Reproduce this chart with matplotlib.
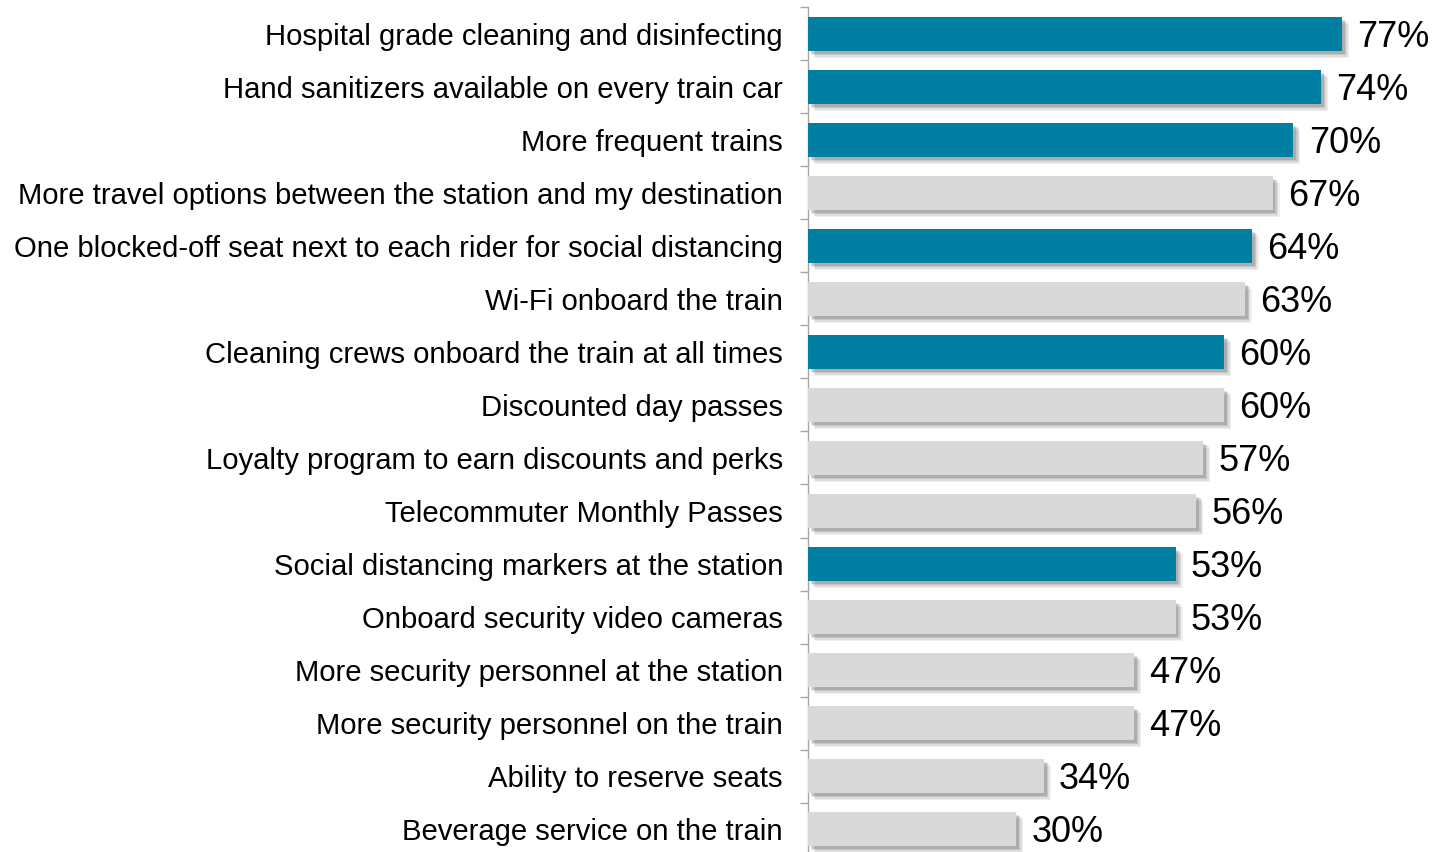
import matplotlib
matplotlib.use("Agg")
import matplotlib.pyplot as plt
import matplotlib.patheffects as pe

categories = [
    "Hospital grade cleaning and disinfecting",
    "Hand sanitizers available on every train car",
    "More frequent trains",
    "More travel options between the station and my destination",
    "One blocked-off seat next to each rider for social distancing",
    "Wi-Fi onboard the train",
    "Cleaning crews onboard the train at all times",
    "Discounted day passes",
    "Loyalty program to earn discounts and perks",
    "Telecommuter Monthly Passes",
    "Social distancing markers at the station",
    "Onboard security video cameras",
    "More security personnel at the station",
    "More security personnel on the train",
    "Ability to reserve seats",
    "Beverage service on the train",
]
values = [77, 74, 70, 67, 64, 63, 60, 60, 57, 56, 53, 53, 47, 47, 34, 30]
highlight = [True, True, True, False, True, False, True, False, False, False,
             True, False, False, False, False, False]
value_labels = ["77%", "74%", "70%", "67%", "64%", "63%", "60%", "60%", "57%",
                "56%", "53%", "53%", "47%", "47%", "34%", "30%"]

BLUE = "#007FA3"
GREY = "#D9D9D9"

plt.rcParams['font.family'] = ['Liberation Sans', 'DejaVu Sans']

W, H, DPI = 1439, 852, 100
fig = plt.figure(figsize=(W / DPI, H / DPI), dpi=DPI)
left = 808 / W
top_px = 7.5
bot_px = -3.5
ax = fig.add_axes([left, bot_px / H, 1 - left, (H - top_px - bot_px) / H])

pos = list(range(len(categories)))
colors = [BLUE if h else GREY for h in highlight]
shadow = [pe.SimplePatchShadow(offset=(5, -5), shadow_rgbFace="#000000", alpha=0.06),
          pe.SimplePatchShadow(offset=(4, -4), shadow_rgbFace="#000000", alpha=0.08),
          pe.SimplePatchShadow(offset=(3, -3), shadow_rgbFace="#000000", alpha=0.10),
          pe.SimplePatchShadow(offset=(2, -2), shadow_rgbFace="#000000", alpha=0.12),
          pe.Normal()]
bars = ax.barh(pos, values, height=0.65, color=colors, zorder=3)
for b in bars:
    b.set_path_effects(shadow)

for p, v, lab in zip(pos, values, value_labels):
    ax.annotate(lab, xy=(v, p), xytext=(11, -2.2), textcoords="offset points",
                va="center", ha="left", fontsize=26, color="#000000")

scale = (1342 - 808) / 77.0
ax.set_xlim(0, (W - 808) / scale)
ax.set_ylim(len(categories) - 0.5, -0.5)

ax.set_yticks(pos)
ax.set_yticklabels(categories, fontsize=21.1)
ax.tick_params(axis="y", which="major", length=0, pad=18)
ax.set_yticks([p - 0.5 for p in pos] + [len(categories) - 0.5], minor=True)
ax.tick_params(axis="y", which="minor", length=6, width=1, color="#A6A6A6", direction="out")
ax.set_xticks([])

for s in ["top", "right", "bottom"]:
    ax.spines[s].set_visible(False)
ax.spines["left"].set_color("#A6A6A6")
ax.spines["left"].set_linewidth(1)

fig.savefig("out.png", dpi=DPI)
